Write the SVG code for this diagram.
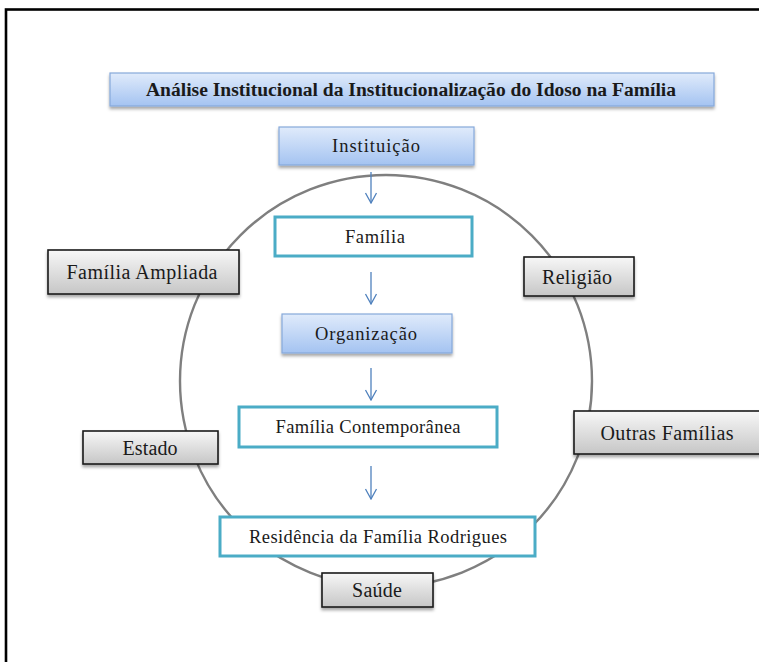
<svg xmlns="http://www.w3.org/2000/svg" width="759" height="662" viewBox="0 0 759 662">
<defs>
<linearGradient id="gBlue" x1="0" y1="0" x2="0" y2="1">
<stop offset="0" stop-color="#e0ebfb"/>
<stop offset="1" stop-color="#a4c3f1"/>
</linearGradient>
<linearGradient id="gGray" x1="0" y1="0" x2="0" y2="1">
<stop offset="0" stop-color="#f7f7f7"/>
<stop offset="1" stop-color="#c6c6c6"/>
</linearGradient>
<filter id="sh" x="-10%" y="-20%" width="120%" height="160%">
<feDropShadow dx="0" dy="2.5" stdDeviation="1.6" flood-color="#000" flood-opacity="0.35"/>
</filter>
<marker id="ah" viewBox="0 0 12 14" refX="11" refY="7" markerWidth="12" markerHeight="14" markerUnits="userSpaceOnUse" orient="auto">
<path d="M1,1.5 L11,7 L1,12.5" fill="none" stroke="#4f81bd" stroke-width="1.3"/>
</marker>
<style>
.blue{fill:url(#gBlue);stroke:#86a9da;stroke-width:1.2;filter:url(#sh)}
.gray{fill:url(#gGray);stroke:#1a1a1a;stroke-width:1.6;filter:url(#sh)}
.cyan{fill:#ffffff;stroke:#4bacc6;stroke-width:3}
text{font-family:"Liberation Serif","Times New Roman",serif;fill:#1a1a1a;text-anchor:middle}
.t18{font-size:20px}
.t16{font-size:18.5px}
.tb{font-size:18.5px;font-weight:bold}
.conn{stroke:#4f81bd;stroke-width:1.3;fill:none;marker-end:url(#ah)}
</style>
</defs>
<rect x="6" y="9.5" width="780" height="700" fill="none" stroke="#000" stroke-width="2.6"/>
<circle cx="386" cy="381" r="206" fill="none" stroke="#7f7f7f" stroke-width="2.4"/>
<g id="connectors">
<line class="conn" x1="371" y1="172" x2="371" y2="203"/>
<line class="conn" x1="371" y1="272" x2="371" y2="304"/>
<line class="conn" x1="371" y1="368" x2="371" y2="400"/>
<line class="conn" x1="371" y1="466" x2="371" y2="499"/>
</g>
<g id="titulo"><rect class="blue" x="110" y="73" width="604" height="33"/><text class="tb" x="411" y="96" textLength="530" lengthAdjust="spacingAndGlyphs">Análise Institucional da Institucionalização do Idoso na Família</text></g>
<g id="instituicao"><rect class="blue" x="279" y="127" width="195" height="38"/><text class="t16" x="376" y="152" textLength="88">Instituição</text></g>
<g id="familia"><rect class="cyan" x="275" y="217" width="197" height="39"/><text class="t16" x="375" y="243" textLength="60">Família</text></g>
<g id="organizacao"><rect class="blue" x="282" y="314" width="170" height="39"/><text class="t16" x="366" y="340" textLength="102">Organização</text></g>
<g id="familia-contemporanea"><rect class="cyan" x="239" y="407" width="258" height="40"/><text class="t16" x="368" y="433" textLength="185">Família Contemporânea</text></g>
<g id="residencia"><rect class="cyan" x="220" y="517" width="315" height="39"/><text class="t16" x="378" y="543" textLength="258">Residência da Família Rodrigues</text></g>
<g id="familia-ampliada"><rect class="gray" x="48" y="250" width="191" height="44"/><text class="t18" x="142" y="279" textLength="151">Família Ampliada</text></g>
<g id="religiao"><rect class="gray" x="524" y="257" width="110" height="39"/><text class="t18" x="577" y="284" textLength="70">Religião</text></g>
<g id="estado"><rect class="gray" x="83" y="431" width="135" height="33"/><text class="t18" x="150" y="455" textLength="55">Estado</text></g>
<g id="outras-familias"><rect class="gray" x="574" y="411" width="200" height="43"/><text class="t18" x="667" y="440" textLength="133">Outras Famílias</text></g>
<g id="saude"><rect class="gray" x="322" y="573" width="111" height="34"/><text class="t18" x="377" y="597" textLength="50">Saúde</text></g>
</svg>
